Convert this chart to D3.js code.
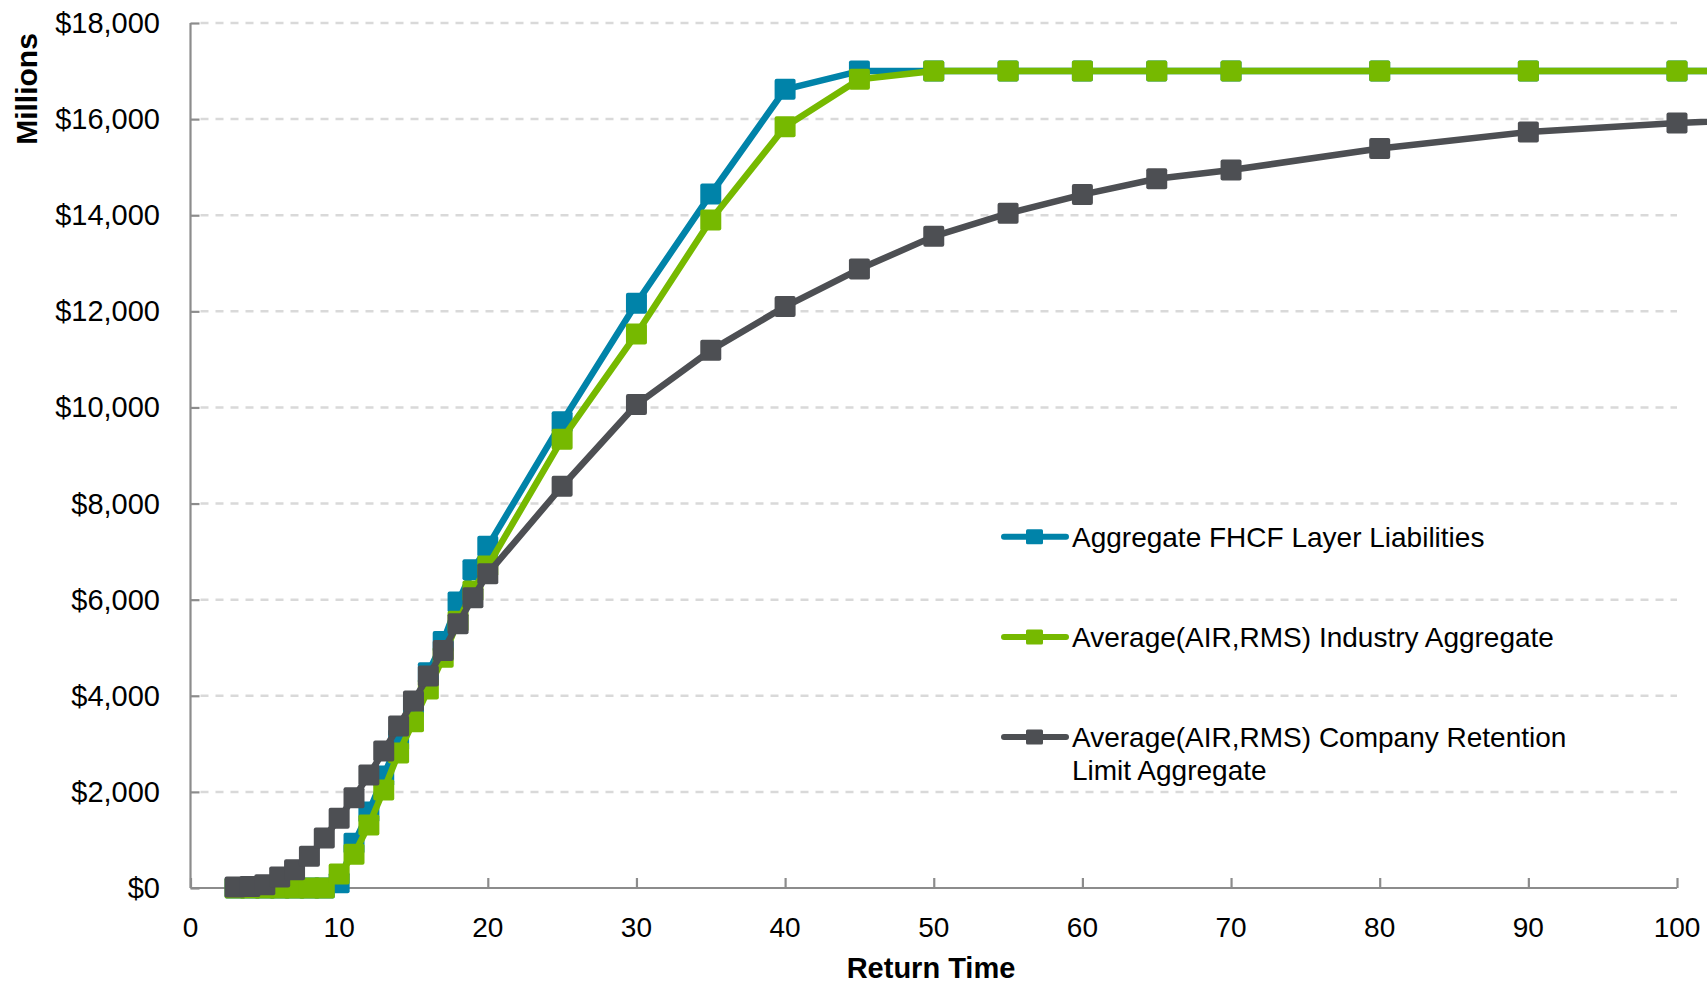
<!DOCTYPE html>
<html>
<head>
<meta charset="utf-8">
<script src="https://cdn.jsdelivr.net/npm/d3@7"></script>
<style>
  body { margin: 0; background: #fff; }
  text { font-family: "Liberation Sans", Arial, sans-serif; fill: #000; }
</style>
</head>
<body>
<div id="chart"></div>
<script>
// return periods (years)
var returnTimes = [3, 4, 5, 6, 7, 8, 9, 10, 11, 12, 13, 14, 15, 16, 17, 18, 19, 20,
                   25, 30, 35, 40, 45, 50, 55, 60, 65, 70, 80, 90, 100, 125];

// $ millions
var fhcfLayer = [0, 0, 0, 0, 0, 0, 0, 110, 930, 1580, 2330, 3080, 3760, 4480, 5130, 5950, 6620, 7110,
                 9700, 12170, 14440, 16620, 17000, 17000, 17000, 17000, 17000, 17000, 17000, 17000, 17000, 17000];
var industryAgg = [0, 0, 0, 0, 0, 0, 0, 290, 700, 1310, 2040, 2810, 3460, 4140, 4800, 5550, 6180, 6700,
                   9340, 11530, 13900, 15840, 16830, 17000, 17000, 17000, 17000, 17000, 17000, 17000, 17000, 17000];
var retentionAgg = [20, 30, 70, 230, 380, 660, 1040, 1450, 1880, 2350, 2850, 3370, 3890, 4410, 4940, 5500, 6040, 6540,
                    8360, 10060, 11190, 12100, 12880, 13560, 14040, 14430, 14760, 14940, 15390, 15730, 15920, 16250];

var seriesNames = ["Aggregate FHCF Layer Liabilities",
                   "Average(AIR,RMS) Industry Aggregate",
                   "Average(AIR,RMS) Company Retention|Limit Aggregate"];
var seriesColors = ["#0083A9", "#76B900", "#4D4F53"];
var seriesValues = [fhcfLayer, industryAgg, retentionAgg];

var yTicks = [0, 2000, 4000, 6000, 8000, 10000, 12000, 14000, 16000, 18000];
var xTicks = [0, 10, 20, 30, 40, 50, 60, 70, 80, 90, 100];

var width = 1707, height = 984;

var svg = d3.select("#chart")
  .append("svg")
    .attr("width", width)
    .attr("height", height);

var x = d3.scaleLinear().domain([0, 100]).range([190.5, 1677]);
var y = d3.scaleLinear().domain([0, 18000]).range([888, 23]);

// gridlines
svg.append("g")
  .selectAll("line")
  .data(yTicks.filter(function(d) { return d > 0; }))
  .enter().append("line")
    .attr("x1", x(0) + 10)
    .attr("x2", x(100))
    .attr("y1", function(d) { return y(d); })
    .attr("y2", function(d) { return y(d); })
    .attr("stroke", "#d9d9d9")
    .attr("stroke-width", 2.5)
    .attr("stroke-dasharray", "8,7");

// y axis
var yAxis = svg.append("g")
  .attr("transform", "translate(" + x(0) + ",0)")
  .call(d3.axisRight(y).tickValues(yTicks).tickSize(9).tickFormat(""));

// x axis
var xAxis = svg.append("g")
  .attr("transform", "translate(0," + y(0) + ")")
  .call(d3.axisTop(x).tickValues(xTicks).tickSize(10).tickFormat(""));

[yAxis, xAxis].forEach(function(a) {
  a.select(".domain").attr("stroke", "#8c8c8c").attr("stroke-width", 2.2);
  a.selectAll(".tick line").attr("stroke", "#8c8c8c").attr("stroke-width", 2.2);
});
yAxis.select(".domain").attr("d", "M0," + y(18000) + "V" + y(0));
xAxis.select(".domain").attr("d", "M" + x(0) + ",0H" + x(100));

// tick labels
var fmt = d3.format(",");
svg.append("g")
  .selectAll("text")
  .data(yTicks)
  .enter().append("text")
    .attr("x", 160)
    .attr("y", function(d) { return y(d) + 10; })
    .attr("text-anchor", "end")
    .style("font-size", "29px")
    .text(function(d) { return "$" + fmt(d); });

svg.append("g")
  .selectAll("text")
  .data(xTicks)
  .enter().append("text")
    .attr("x", function(d) { return x(d); })
    .attr("y", 937)
    .attr("text-anchor", "middle")
    .style("font-size", "28px")
    .text(function(d) { return d; });

// axis titles
svg.append("text")
  .attr("transform", "translate(37,89) rotate(-90)")
  .attr("text-anchor", "middle")
  .style("font-size", "30px")
  .style("font-weight", "bold")
  .text("Millions");

svg.append("text")
  .attr("x", 931)
  .attr("y", 978)
  .attr("text-anchor", "middle")
  .style("font-size", "29px")
  .style("font-weight", "bold")
  .text("Return Time");

// series: line then markers, drawn in order
var line = d3.line()
  .x(function(d) { return x(d[0]); })
  .y(function(d) { return y(d[1]); });

var msize = 21;
seriesValues.forEach(function(vals, i) {
  var pts = returnTimes.map(function(t, j) { return [t, vals[j]]; });
  var g = svg.append("g");
  g.append("path")
    .datum(pts)
    .attr("d", line)
    .attr("fill", "none")
    .attr("stroke", seriesColors[i])
    .attr("stroke-width", 6.5)
    .attr("stroke-linejoin", "round");
  g.selectAll("rect")
    .data(pts)
    .enter().append("rect")
      .attr("x", function(d) { return x(d[0]) - msize / 2; })
      .attr("y", function(d) { return y(d[1]) - msize / 2; })
      .attr("width", msize)
      .attr("height", msize)
      .attr("rx", 2)
      .attr("fill", seriesColors[i]);
});

// legend
var legendY = [536.7, 636.9, 737];
var legend = svg.append("g")
  .selectAll("g")
  .data(seriesNames)
  .enter().append("g")
    .attr("transform", function(d, i) { return "translate(0," + legendY[i] + ")"; });

legend.append("line")
  .attr("x1", 1004).attr("x2", 1066)
  .attr("y1", 0).attr("y2", 0)
  .attr("stroke", function(d, i) { return seriesColors[i]; })
  .attr("stroke-width", 6)
  .attr("stroke-linecap", "round");

legend.append("rect")
  .attr("x", 1026).attr("y", -7.5)
  .attr("width", 17).attr("height", 15)
  .attr("rx", 1.5)
  .attr("fill", function(d, i) { return seriesColors[i]; });

legend.append("text")
  .attr("x", 1072)
  .attr("y", 10)
  .style("font-size", "28px")
  .selectAll("tspan")
  .data(function(d) { return d.split("|"); })
  .enter().append("tspan")
    .attr("x", 1072)
    .attr("dy", function(d, i) { return i == 0 ? 0 : 33; })
    .text(function(d) { return d; });
</script>
</body>
</html>
